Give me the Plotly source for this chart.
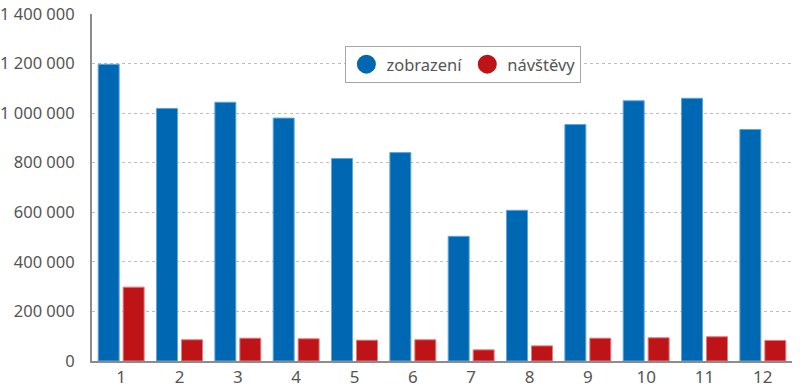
import plotly.graph_objects as go

months = ["1", "2", "3", "4", "5", "6", "7", "8", "9", "10", "11", "12"]
zobrazeni = [1197000, 1019000, 1044000, 980000, 817000, 841000, 503000, 608000, 954000, 1050000, 1060000, 934000]
navstevy = [298000, 85600, 92000, 89700, 84000, 85600, 45000, 61000, 92000, 93700, 97800, 83000]
series_names = ["zobrazení", "návštěvy"]
tick_vals = [0, 200000, 400000, 600000, 800000, 1000000, 1200000, 1400000]

BLUE = "#0068b3"
RED = "#be1418"
BLUE_EDGE = "#5ea6dc"
RED_EDGE = "#e47a7c"
FONT = "Noto Sans"

fig = go.Figure()
fig.add_trace(go.Bar(x=months, y=zobrazeni, name=series_names[0], showlegend=False,
                     marker=dict(color=BLUE, line=dict(color=BLUE_EDGE, width=1))))
fig.add_trace(go.Bar(x=months, y=navstevy, name=series_names[1], showlegend=False,
                     marker=dict(color=RED, line=dict(color=RED_EDGE, width=1))))
# legend entries with circular markers
for nm, col in zip(series_names, [BLUE, RED]):
    fig.add_trace(go.Scatter(x=[None], y=[None], mode="markers", name=nm,
                             marker=dict(symbol="circle", size=16, color=col,
                                         line=dict(color=col, width=3))))

fig.update_layout(
    width=800, height=389,
    margin=dict(l=92, r=8, t=14, b=28),
    paper_bgcolor="white", plot_bgcolor="white",
    barmode="group", bargap=0.144, bargroupgap=0.16,
    separators=", ",
    font=dict(family=FONT, color="#555555", size=17),
    legend=dict(orientation="h", x=0.362, y=0.908, xanchor="left", yanchor="top",
                bordercolor="#a6a6a6", borderwidth=1, bgcolor="white",
                font=dict(size=16.5, color="#555555"), itemwidth=30),
)
fig.update_xaxes(showgrid=False, showline=True, linecolor="#8c8c8c", linewidth=2,
                 ticks="", automargin=False, tickfont=dict(size=17, color="#555555"))
fig.update_yaxes(range=[0, 1400000], tickvals=tick_vals, tickformat=",d",
                 showgrid=True, gridcolor="#bdbdbd", griddash="dot", gridwidth=1,
                 showline=True, linecolor="#8c8c8c", linewidth=2,
                 zeroline=False, ticklabelstandoff=12, automargin=False,
                 tickfont=dict(size=16.5, color="#555555"))

fig.write_html("out.html", config={"displayModeBar": False},
               post_script="document.body.style.margin='0';document.body.style.overflow='hidden';")
